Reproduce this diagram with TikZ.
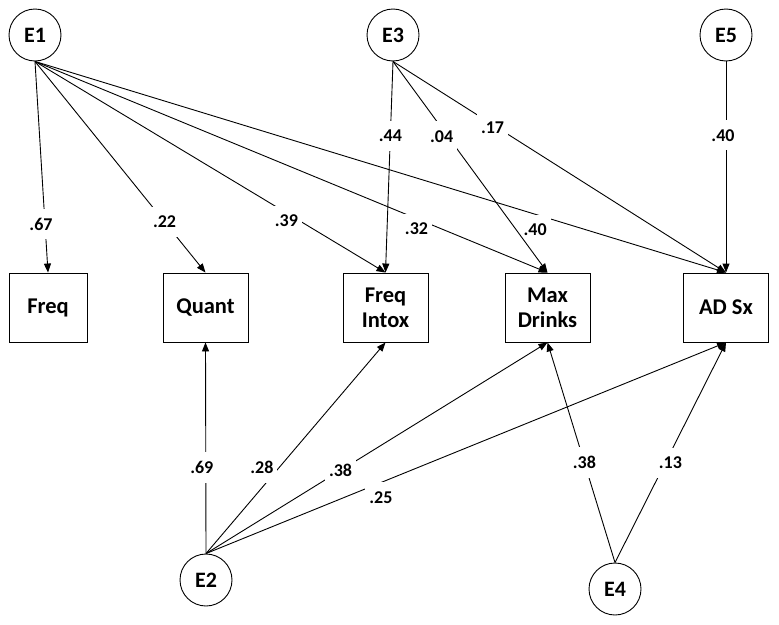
\documentclass[tikz,border=0pt]{standalone}
\usepackage{fontspec}
\setmainfont{Carlito}
\usetikzlibrary{arrows.meta, positioning}

\tikzset{
	err/.style={draw, circle, minimum size=52pt, inner sep=0pt, font=\bfseries\fontsize{22}{24}\selectfont},
	obs/.style={draw, rectangle, minimum width=85pt, minimum height=69pt, align=center, font=\bfseries\fontsize{22.5}{25}\selectfont},
	coef/.style={fill=white, inner xsep=4pt, inner ysep=9pt, font=\bfseries\fontsize{18}{19}\selectfont}
}

\begin{document}
\begin{tikzpicture}[x=1pt, y=-1pt, line width=0.9pt, >={Triangle[length=9pt,width=7pt]}]
		\useasboundingbox (0,0) rectangle (779,624);
		% error terms
		\node[err] (E1) at (35,35) {E1}; \node[err] (E3) at (393,35) {E3}; \node[err] (E5) at (726,35) {E5};
		\node[err] (E2) at (206,580) {E2}; \node[err] (E4) at (615,589) {E4};
		% observed variables
		\node[obs, minimum width=78pt] (freq) at (48,307.5) {Freq};
		\node[obs] (quant) at (205.5,307.5) {Quant};
		\node[obs] (intox) at (385.5,307.5) {Freq\\Intox};
		\node[obs] (maxdr) at (547.5,307.5) {Max\\Drinks};
		\node[obs] (adsx) at (726,307.5) {AD Sx};
		% paths from E1
		\draw[->] (E1.south) -- node[coef, pos=.77, xshift=-4pt]{.67} (freq.north);
		\draw[->] (E1.south) -- node[coef, pos=.76]{.22} (quant.north);
		\draw[->] (E1.south) -- node[coef, pos=.74, xshift=-8pt, yshift=-3pt]{.39} (intox.north);
		\draw[->] (E1.south) -- node[coef, pos=.76, xshift=-8pt, yshift=-7pt]{.32} (maxdr.north);
		\draw[->] (E1.south) -- node[coef, pos=.744, xshift=-14pt, yshift=-11pt]{.40} (adsx.north);
		% paths from E3 and E5
		\draw[->] (E3.south) -- node[coef, pos=.354]{.44} (intox.north);
		\draw[->] (E3.south) -- node[coef, pos=.354, xshift=-6pt]{.04} (maxdr.north);
		\draw[->] (E3.south) -- node[coef, pos=.314, xshift=-5pt]{.17} (adsx.north);
		\draw[->] (E5.south) -- node[coef, pos=.35, xshift=-3pt]{.40} (adsx.north);
		% paths from E2
		\draw[->] (E2.north) -- node[coef, pos=.408, xshift=-4pt]{.69} (quant.south);
		\draw[->] (E2.north) -- node[coef, pos=.406, xshift=-17pt]{.28} (intox.south);
		\draw[->] (E2.north) -- node[coef, pos=.394]{.38} (maxdr.south);
		\draw[->] (E2.north) -- node[coef, pos=.319, xshift=9pt, yshift=-11pt]{.25} (adsx.south);
		% paths from E4
		\draw[->] (E4.north) -- node[coef, pos=.454]{.38} (maxdr.south);
		\draw[->] (E4.north) -- node[coef, pos=.454, xshift=5pt]{.13} (adsx.south);
\end{tikzpicture}
\end{document}
